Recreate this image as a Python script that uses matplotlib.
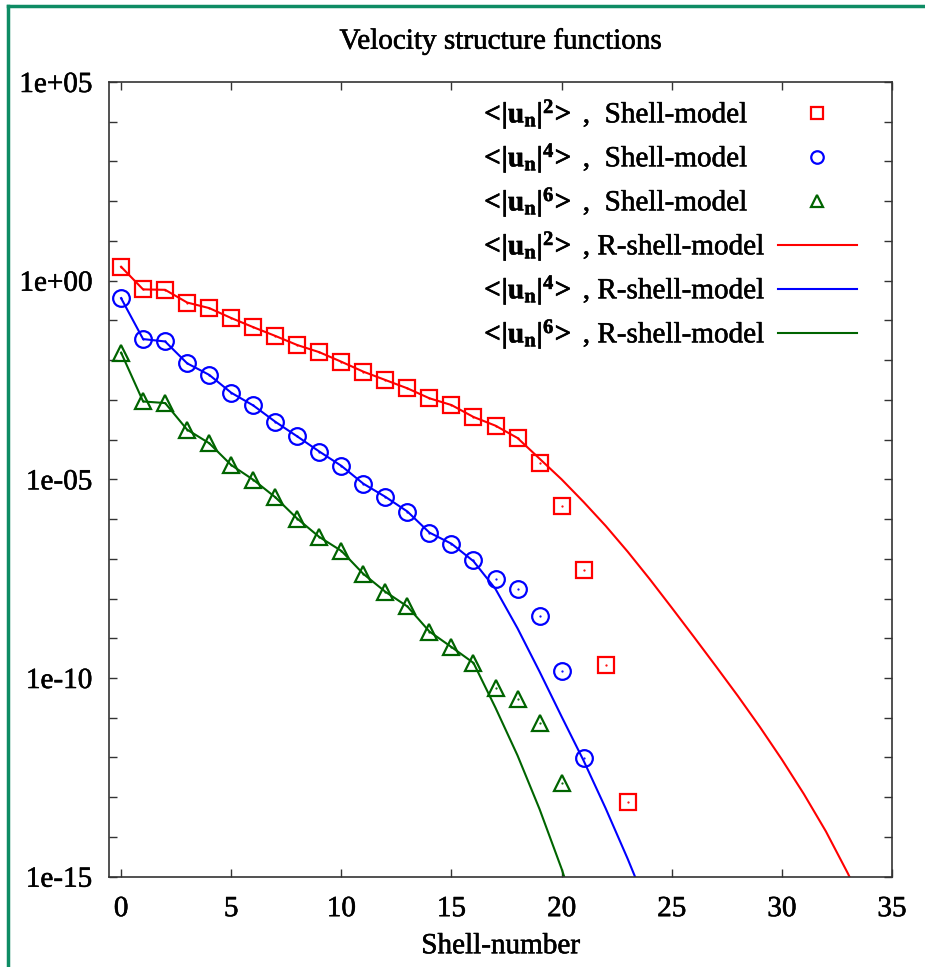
import numpy as np
import matplotlib.pyplot as plt
import matplotlib.patheffects as pe
from matplotlib.lines import Line2D

plt.rcParams['font.family'] = ['Liberation Serif', 'DejaVu Serif']
plt.rcParams['mathtext.fontset'] = 'custom'
plt.rcParams['mathtext.rm'] = 'Liberation Serif'
plt.rcParams['mathtext.bf'] = 'Liberation Serif:bold'
plt.rcParams['mathtext.it'] = 'Liberation Serif:italic'

# Data (log10 of the structure functions) ------------------------------------
n_red = np.arange(0, 24)
red_sm = [0.35, -0.22, -0.23, -0.55, -0.69, -0.94, -1.17, -1.39, -1.62, -1.80,
          -2.04, -2.29, -2.50, -2.71, -2.96, -3.13, -3.43, -3.65, -3.96, -4.58,
          -5.67, -7.28, -9.68, -13.11]

n_blue = np.arange(0, 22)
blue_sm = [-0.44, -1.47, -1.53, -2.08, -2.37, -2.82, -3.14, -3.55, -3.92, -4.30,
           -4.66, -5.11, -5.44, -5.81, -6.34, -6.62, -7.03, -7.52, -7.77, -8.43,
           -9.82, -12.01]

n_green = np.arange(0, 21)
green_sm = [-1.81, -3.04, -3.08, -3.75, -4.09, -4.64, -5.01, -5.45, -5.99, -6.45,
            -6.80, -7.38, -7.83, -8.20, -8.83, -9.22, -9.62, -10.24, -10.54, -11.13,
            -12.63]

# R-shell-model curves
n_red_rs = np.arange(0, 35)
red_rs = [0.35, -0.22, -0.23, -0.55, -0.69, -0.94, -1.17, -1.39, -1.62, -1.80,
          -2.04, -2.29, -2.50, -2.71, -2.96, -3.13, -3.43, -3.65, -3.96, -4.48,
          -5.00, -5.57, -6.17, -6.82, -7.51, -8.23, -8.96, -9.70, -10.45, -11.23,
          -12.05, -12.92, -13.86, -14.92, -16.1]

n_blue_rs = np.arange(0, 25)
blue_rs = [-0.44, -1.47, -1.53, -2.08, -2.37, -2.82, -3.14, -3.55, -3.92, -4.30,
           -4.66, -5.11, -5.44, -5.81, -6.34, -6.62, -7.06, -7.76, -8.75, -9.84,
           -10.97, -12.08, -13.28, -14.55, -15.9]

n_green_rs = np.arange(0, 22)
green_rs = [-1.81, -3.04, -3.08, -3.75, -4.09, -4.64, -5.01, -5.45, -5.99, -6.45,
            -6.80, -7.38, -7.83, -8.20, -8.83, -9.22, -9.62, -10.75, -11.95, -13.30,
            -14.80, -16.5]

legend_labels = [
    r'$\mathbf{<\!|u_n|^2\!>}$ ,  Shell-model',
    r'$\mathbf{<\!|u_n|^4\!>}$ ,  Shell-model',
    r'$\mathbf{<\!|u_n|^6\!>}$ ,  Shell-model',
    r'$\mathbf{<\!|u_n|^2\!>}$ , R-shell-model',
    r'$\mathbf{<\!|u_n|^4\!>}$ , R-shell-model',
    r'$\mathbf{<\!|u_n|^6\!>}$ , R-shell-model',
]

red = '#ff0000'
blue = '#0000ff'
green = '#006400'

heavy = [pe.withStroke(linewidth=0.4, foreground='black')]

# Plot ------------------------------------------------------------------------
fig = plt.figure(figsize=(9.25, 9.67), dpi=100)
ax = fig.add_axes([0.1178, 0.0934, 0.8465, 0.8218])

ax.plot(n_red_rs, 10.0**np.array(red_rs), color=red, lw=1.5)
ax.plot(n_blue_rs, 10.0**np.array(blue_rs), color=blue, lw=1.5)
ax.plot(n_green_rs, 10.0**np.array(green_rs), color=green, lw=1.5)

mk = dict(ls='none', fillstyle='none', mew=1.6)
ax.plot(n_red, 10.0**np.array(red_sm), marker='s', ms=11, color=red, **mk)
ax.plot(n_blue, 10.0**np.array(blue_sm), marker='o', ms=12, color=blue, **mk)
ax.plot(n_green, 10.0**np.array(green_sm), marker='^', ms=11, color=green, **mk)
# small centre dots, like the gnuplot point types
for x, y, c in [(n_red, red_sm, red), (n_blue, blue_sm, blue), (n_green, green_sm, green)]:
    ax.plot(x, 10.0**np.array(y), ls='none', marker='.', ms=1.2, color=c)

ax.set_yscale('log')
ax.set_xlim(-0.55, 35)
ax.set_ylim(1e-15, 1e5)
ax.set_xticks(np.arange(0, 36, 5))
ax.set_yticks(10.0**np.arange(-15, 6))
ax.set_yticklabels(['1e%+03d' % e if e % 5 == 0 else '' for e in range(-15, 6)])
ax.minorticks_off()
ax.tick_params(direction='in', top=True, right=True, length=6, width=1,
               labelsize=21, color='#333333')
ax.tick_params(axis='x', pad=14)
ax.tick_params(axis='y', pad=12)
for s in ax.spines.values():
    s.set_color('#333333')
    s.set_linewidth(1.2)
for t in ax.get_xticklabels() + ax.get_yticklabels():
    t.set_path_effects(heavy)

ax.set_title('Velocity structure functions', fontsize=21, pad=24, path_effects=heavy)
ax.set_xlabel('Shell-number', fontsize=21, labelpad=8, path_effects=heavy)

# legend drawn by hand so the labels stay left aligned (gnuplot style)
ax_l, ax_w, ax_b, ax_h = 109, 783, 876.7, 794.7
def fx(px):
    return (px - ax_l) / ax_w
def fy(py):
    return (ax_b - py) / ax_h

row_y = [113, 157, 201, 245, 289, 333]
styles = [
    dict(marker='s', ms=8, color=red, **mk),
    dict(marker='o', ms=9, color=blue, **mk),
    dict(marker='^', ms=8, color=green, **mk),
    dict(color=red, lw=1.5),
    dict(color=blue, lw=1.5),
    dict(color=green, lw=1.5),
]
for lab, st, yy in zip(legend_labels, styles, row_y):
    ax.text(fx(480), fy(yy + 9.5), lab, transform=ax.transAxes, fontsize=21,
            ha='left', va='baseline', path_effects=heavy)
    if 'marker' in st:
        ax.add_line(Line2D([fx(817)], [fy(yy)], transform=ax.transAxes,
                           clip_on=False, **st))
    else:
        ax.add_line(Line2D([fx(778), fx(857)], [fy(yy), fy(yy)],
                           transform=ax.transAxes, clip_on=False, **st))

# teal frame lines (top and left edges of the original screenshot)
fig.add_artist(Line2D([8 / 925, 1], [1 - 6 / 967, 1 - 6 / 967],
                      transform=fig.transFigure, color='#0e8c64', lw=2.5))
fig.add_artist(Line2D([8 / 925, 8 / 925], [0, 1 - 6 / 967],
                      transform=fig.transFigure, color='#0e8c64', lw=2.5))

fig.savefig('out.png', dpi=100)
